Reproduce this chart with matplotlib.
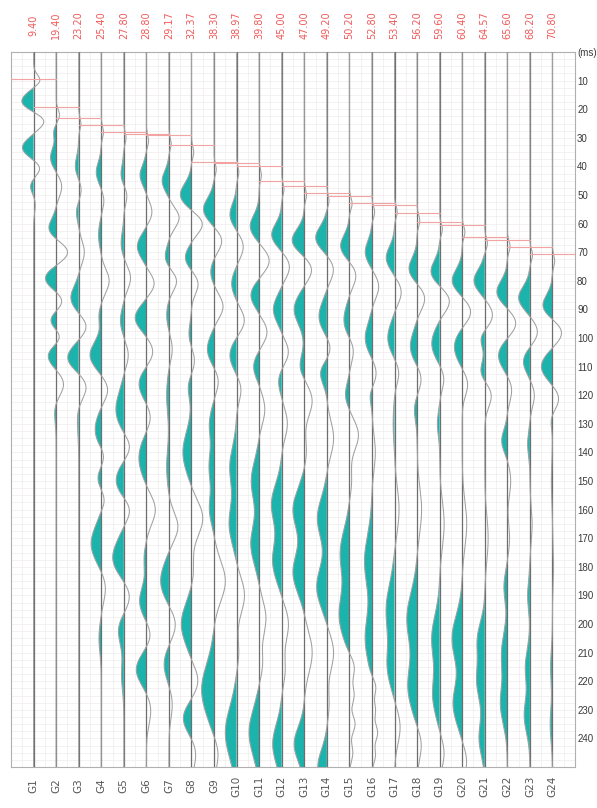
import numpy as np
import matplotlib.pyplot as plt
from matplotlib.transforms import blended_transform_factory

# geophone labels and first-break picks (ms)
trace_names = ['G1', 'G2', 'G3', 'G4', 'G5', 'G6', 'G7', 'G8', 'G9', 'G10', 'G11', 'G12',
               'G13', 'G14', 'G15', 'G16', 'G17', 'G18', 'G19', 'G20', 'G21', 'G22', 'G23', 'G24']
pick_ms = [9.40, 19.40, 23.20, 25.40, 27.80, 28.80, 29.17, 32.37, 38.30, 38.97, 39.80, 45.00,
           47.00, 49.20, 50.20, 52.80, 53.40, 56.20, 59.60, 60.40, 64.57, 65.60, 68.20, 70.80]
pick_labels = ['9.40', '19.40', '23.20', '25.40', '27.80', '28.80', '29.17', '32.37', '38.30',
               '38.97', '39.80', '45.00', '47.00', '49.20', '50.20', '52.80', '53.40', '56.20',
               '59.60', '60.40', '64.57', '65.60', '68.20', '70.80']

# wavelet lobes per trace: (time ms, amplitude in trace spacings, half-width ms)
# positive amplitude swings left and is shaded
g01 = [(10, -0.3, 2), (17.5, 0.55, 3), (24, -0.5, 2.8), (33.5, 0.5, 3), (40.5, -0.3, 2.5),
       (47, 0.15, 2.5), (53, -0.08, 3)]
g02 = [(22, -0.15, 2), (28, 0.1, 2), (37, 0.25, 3.5), (47, -0.25, 3.5), (62, 0.35, 3.5),
       (70, -0.55, 3.5), (79, 0.5, 3.5), (87, -0.3, 3), (94, 0.28, 3), (100, -0.3, 3),
       (106, 0.4, 4), (116, -0.35, 4), (125, 0.08, 4)]
g03 = [(25, -0.1, 2), (40, 0.15, 3.5), (48, -0.12, 3), (56, 0.1, 3), (70, -0.25, 4),
       (86, 0.35, 4), (96, -0.35, 3.5), (107, 0.5, 4), (117, -0.35, 4), (128, 0.06, 5)]
g04 = [(28, -0.1, 2), (42, 0.22, 3.5), (52, -0.12, 3), (64, 0.12, 4), (80, -0.35, 4),
       (92, 0.1, 3), (106, 0.5, 4.5), (118, -0.3, 4), (132, 0.27, 5), (141, -0.15, 3),
       (149, 0.15, 3), (157, -0.15, 3), (172, 0.45, 6), (187, -0.2, 5), (205, 0.1, 5)]
g05 = [(30, -0.1, 2), (43, 0.13, 3.5), (50, -0.15, 3), (67, 0.12, 4), (79, -0.3, 4),
       (94, 0.15, 4), (106, -0.2, 4), (125, 0.35, 6), (138, -0.3, 4), (150, 0.35, 5),
       (160, -0.3, 4), (177, 0.5, 6), (190, -0.3, 5), (202, 0.25, 5), (218, 0.1, 5)]
g06 = [(31, -0.1, 2), (43, 0.28, 3.5), (56, -0.25, 3.5), (68, 0.4, 4), (81, -0.35, 3.5),
       (93, 0.5, 4), (105, -0.3, 4), (116, 0.33, 4.5), (128, -0.2, 4), (142, 0.33, 6),
       (160, -0.4, 5), (177, 0.1, 4), (192, 0.3, 5), (204, -0.2, 4), (216, 0.45, 5),
       (230, -0.2, 5)]
g07 = [(32, -0.1, 2), (45, 0.3, 3.5), (58, -0.45, 3.5), (72, 0.18, 3.5), (80, -0.35, 3.5),
       (92, 0.1, 4), (104, -0.15, 4), (120, 0.1, 6), (145, 0.1, 6), (166, -0.4, 5),
       (185, 0.37, 6), (200, -0.3, 5), (214, 0.22, 5), (228, -0.15, 5)]
g08 = [(35, -0.1, 2), (50, 0.5, 4), (60, -0.5, 3.5), (72, 0.28, 3.5), (81, -0.3, 3.5),
       (99, 0.12, 4), (108, -0.15, 4), (117, 0.15, 4), (140, 0.38, 7), (163, -0.5, 6),
       (182, -0.1, 5), (200, 0.45, 7), (220, -0.3, 5), (233, 0.38, 5), (245, -0.2, 5)]
g09 = [(41, -0.1, 2), (55, 0.47, 4), (66, -0.35, 3.5), (77, 0.15, 3.5), (89, -0.4, 4),
       (104, 0.3, 4.5), (115, -0.2, 4), (130, 0.2, 5), (145, 0.22, 6), (160, 0.2, 5),
       (185, -0.5, 7), (223, 0.55, 9), (245, -0.2, 5)]
g10 = [(42, -0.1, 2), (57, 0.3, 4), (68, -0.3, 4), (81, 0.22, 4), (94, -0.35, 4),
       (106, 0.3, 4.5), (118, -0.2, 4), (145, 0.3, 7), (165, 0.33, 7), (190, -0.35, 6),
       (210, -0.1, 5), (238, 0.5, 9)]
g11 = [(43, -0.1, 2), (61, 0.4, 4), (73, -0.45, 4), (85, 0.37, 4), (98, -0.35, 4),
       (110, 0.25, 4), (125, -0.25, 5), (150, 0.35, 7), (172, 0.37, 7), (198, -0.3, 6),
       (214, -0.15, 5), (238, 0.45, 8)]
g12 = [(48, -0.1, 2), (64, 0.45, 4), (75, -0.35, 4), (90, 0.37, 4.5), (105, -0.3, 4),
       (115, 0.15, 4), (130, -0.25, 5), (158, 0.45, 7), (178, 0.4, 7), (200, -0.3, 6),
       (216, -0.15, 5), (242, 0.4, 7)]
g13 = [(50, -0.1, 2), (66, 0.55, 4), (76, -0.35, 4), (90, 0.45, 5), (110, 0.2, 4),
       (122, -0.35, 5), (140, -0.1, 5), (160, 0.5, 7), (182, 0.5, 7), (210, -0.35, 7),
       (242, 0.45, 6)]
g14 = [(52, -0.1, 2), (65, 0.5, 4), (76, -0.3, 4), (92.5, 0.35, 5), (104, -0.2, 4),
       (112, 0.3, 4), (135, -0.3, 6), (163, 0.42, 7), (187, 0.45, 7), (210, -0.3, 6),
       (228, -0.1, 5), (250, 0.4, 6)]
g15 = [(53, -0.12, 2), (68, 0.4, 4), (78, -0.3, 4), (94, 0.25, 5), (104, -0.2, 4),
       (120, 0.18, 4), (134, -0.4, 5), (150, -0.1, 5), (175, 0.4, 8), (197, 0.45, 8),
       (215, -0.25, 4), (225, -0.2, 3), (235, -0.25, 3), (245, -0.15, 3)]
g16 = [(56, -0.12, 2), (70, 0.3, 4), (82, -0.3, 4), (100, 0.3, 5), (112, -0.2, 4),
       (120, 0.1, 3), (140, -0.15, 6), (178, 0.33, 9), (205, 0.3, 8), (222, -0.2, 3),
       (230, -0.15, 2.5), (238, -0.25, 3), (246, -0.15, 2.5)]
g17 = [(56, -0.12, 2), (72, 0.37, 4), (84, -0.3, 4), (100, 0.3, 5), (112, -0.2, 4),
       (130, 0.06, 6), (160, -0.2, 8), (195, 0.37, 9), (215, 0.3, 7), (236, -0.25, 6)]
g18 = [(59, -0.12, 2), (76, 0.37, 4), (86, -0.35, 4), (103, 0.3, 5), (114, -0.2, 4),
       (125, 0.12, 4), (160, -0.2, 8), (198, 0.45, 9), (222, 0.4, 8), (242, -0.2, 5)]
g19 = [(62, -0.12, 2), (77, 0.4, 4), (87, -0.45, 4), (102, 0.35, 5), (114, -0.2, 4),
       (130, 0.1, 4), (165, -0.2, 8), (205, 0.35, 8), (225, 0.3, 7), (245, -0.2, 5)]
g20 = [(63, -0.12, 2), (80, 0.45, 4), (91, -0.4, 4), (103, 0.35, 5), (116, -0.25, 4),
       (165, -0.2, 8), (205, 0.45, 8), (228, 0.4, 7), (248, -0.2, 5)]
g21 = [(67, -0.12, 2), (80, 0.48, 4), (92, -0.35, 4), (100, 0.2, 3), (112, 0.2, 3.5),
       (120, -0.3, 4), (170, -0.15, 8), (205, 0.3, 6), (220, 0.35, 7), (240, 0.25, 6)]
g22 = [(68, -0.12, 2), (84, 0.47, 4), (95, -0.4, 4), (106, 0.4, 4.5), (118, -0.2, 4),
       (136, 0.25, 4), (150, -0.15, 5), (170, -0.1, 5), (187, 0.15, 5), (210, 0.25, 7),
       (228, 0.3, 7)]
g23 = [(71, -0.12, 2), (86, 0.5, 4), (98, -0.35, 4), (108, 0.3, 4), (120, -0.2, 4),
       (137, 0.1, 4), (165, -0.1, 6), (190, 0.1, 5), (215, 0.2, 6), (232, 0.25, 6)]
g24 = [(73, -0.1, 2), (89, 0.45, 4), (98, -0.45, 4), (110, 0.5, 4.5), (121, -0.3, 4),
       (128, 0.1, 3), (150, 0.05, 6), (180, -0.05, 6), (215, 0.08, 6), (235, 0.1, 6)]

lobes = [g01, g02, g03, g04, g05, g06, g07, g08, g09, g10, g11, g12,
         g13, g14, g15, g16, g17, g18, g19, g20, g21, g22, g23, g24]

time_ticks = list(range(0, 250, 10))
time_tick_labels = ['(ms)'] + [str(v) for v in time_ticks[1:]]

teal = '#1bb3ac'
fig = plt.figure(figsize=(5.97, 8.08), dpi=100)
ax = fig.add_axes([11 / 597, 1 - 767 / 808, 564 / 597, 715 / 808])

t = np.linspace(0, 250, 2501)

# faint background grid
for y in np.arange(0, 250, 2.5):
    ax.axhline(y, color='#efebeb', lw=0.5, zorder=0)
for x in np.arange(0.5, 25, 0.5):
    ax.axvline(x, color='#efebeb', lw=0.5, zorder=0)

# first-break picks
for i, p in enumerate(pick_ms):
    pos = i + 1
    ax.plot([pos - 1, pos + 1], [p, p], color='#f2a3a3', lw=0.8, zorder=4)

for i, trace in enumerate(lobes):
    pos = i + 1
    amp = np.zeros_like(t)
    for t0, a, w in trace:
        amp += a * np.exp(-0.5 * ((t - t0) / w) ** 2)
    x = pos - amp
    ax.fill_betweenx(t, x, pos, where=x < pos, interpolate=True,
                     color=teal, lw=0, zorder=2)
    ax.axvline(pos, color='#6e6e6e', lw=0.9, zorder=3)
    ax.plot(x, t, color='#a0a0a0', lw=0.75, zorder=3)

ax.set_xlim(0, 25)
ax.set_ylim(250, 0)
ax.set_xticks([])
ax.yaxis.tick_right()
ax.set_yticks(time_ticks)
ax.set_yticklabels(time_tick_labels, fontsize=7, color='#3a3a3a',
                   family=['Liberation Sans', 'DejaVu Sans'])
ax.tick_params(axis='y', length=0, pad=1.5)
for s in ax.spines.values():
    s.set_color('#b0b0b0')
    s.set_linewidth(0.8)

trans = blended_transform_factory(ax.transData, fig.transFigure)
for i, (lab, name) in enumerate(zip(pick_labels, trace_names)):
    pos = i + 1
    fig.text(pos, 1 - 25 / 808, lab, transform=trans, rotation=90,
             ha='center', va='center', fontsize=7, color='#f05a5a')
    fig.text(pos, 1 - 786 / 808, name, transform=trans, rotation=90,
             ha='center', va='center', fontsize=7.5, color='#555555')

fig.savefig('out.png', dpi=100)
